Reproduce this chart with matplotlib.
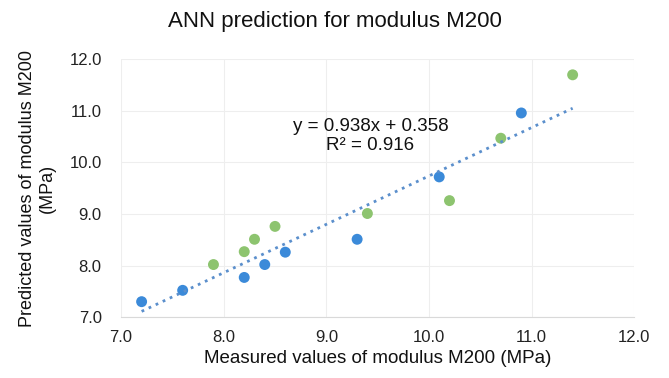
import numpy as np
import matplotlib
matplotlib.use("Agg")
import matplotlib.pyplot as plt

plt.rcParams['font.family'] = ['Liberation Sans', 'DejaVu Sans']

# Series 1 (blue)
blue_x = [7.2, 7.6, 8.2, 8.4, 8.6, 9.3, 10.1, 10.9]
blue_y = [7.3, 7.52, 7.77, 8.02, 8.26, 8.51, 9.72, 10.96]

# Series 2 (green)
green_x = [7.9, 8.2, 8.3, 8.5, 9.4, 10.2, 10.7, 11.4]
green_y = [8.02, 8.27, 8.51, 8.76, 9.01, 9.26, 10.47, 11.7]

# Linear trendline from the chart label
slope = 0.938
intercept = 0.358

ticks = [7.0, 8.0, 9.0, 10.0, 11.0, 12.0]

fig = plt.figure(figsize=(6.69, 3.78), dpi=100)
ax = fig.add_axes([0.181, 0.161, 0.767, 0.682])

ax.scatter(blue_x, blue_y, s=62, color='#3b8ad9', edgecolors='none', zorder=3)
ax.scatter(green_x, green_y, s=62, color='#8dc46f', edgecolors='none', zorder=3)

all_x = blue_x + green_x
xs = np.array([min(all_x), max(all_x)])
ax.plot(xs, slope * xs + intercept, linestyle=(0, (1, 1.8)), color='#5b8fcc',
        linewidth=2.0, zorder=4)

ax.text(9.43, 10.52, "y = 0.938x + 0.358\nR² = 0.916", ha='center', va='center',
        fontsize=13.5, multialignment='center', linespacing=1.15, color='#111111')

ax.set_xlim(7.0, 12.0)
ax.set_ylim(7.0, 12.0)
ax.set_xticks(ticks)
ax.set_yticks(ticks)
ax.set_xticklabels([f"{t:.1f}" for t in ticks])
ax.set_yticklabels([f"{t:.1f}" for t in ticks])
ax.tick_params(length=0, labelsize=12, colors='#222222', pad=9)
ax.tick_params(axis='y', pad=14)

ax.grid(True, color='#eeeeee', linewidth=0.8)
ax.set_axisbelow(True)
for side in ['top', 'right', 'left']:
    ax.spines[side].set_visible(False)
ax.spines['bottom'].set_color('#d9d9d9')

fig.suptitle("ANN prediction for modulus M200", x=0.5, y=0.972, fontsize=16,
             color='#111111')
ax.set_xlabel("Measured values of modulus M200 (MPa)", fontsize=13.5, labelpad=4, color='#111111')
ax.set_ylabel("Predicted values of modulus M200\n(MPa)", fontsize=13, labelpad=10,
              color='#111111', linespacing=1.2)

fig.savefig("out.png", dpi=100, facecolor='white')
